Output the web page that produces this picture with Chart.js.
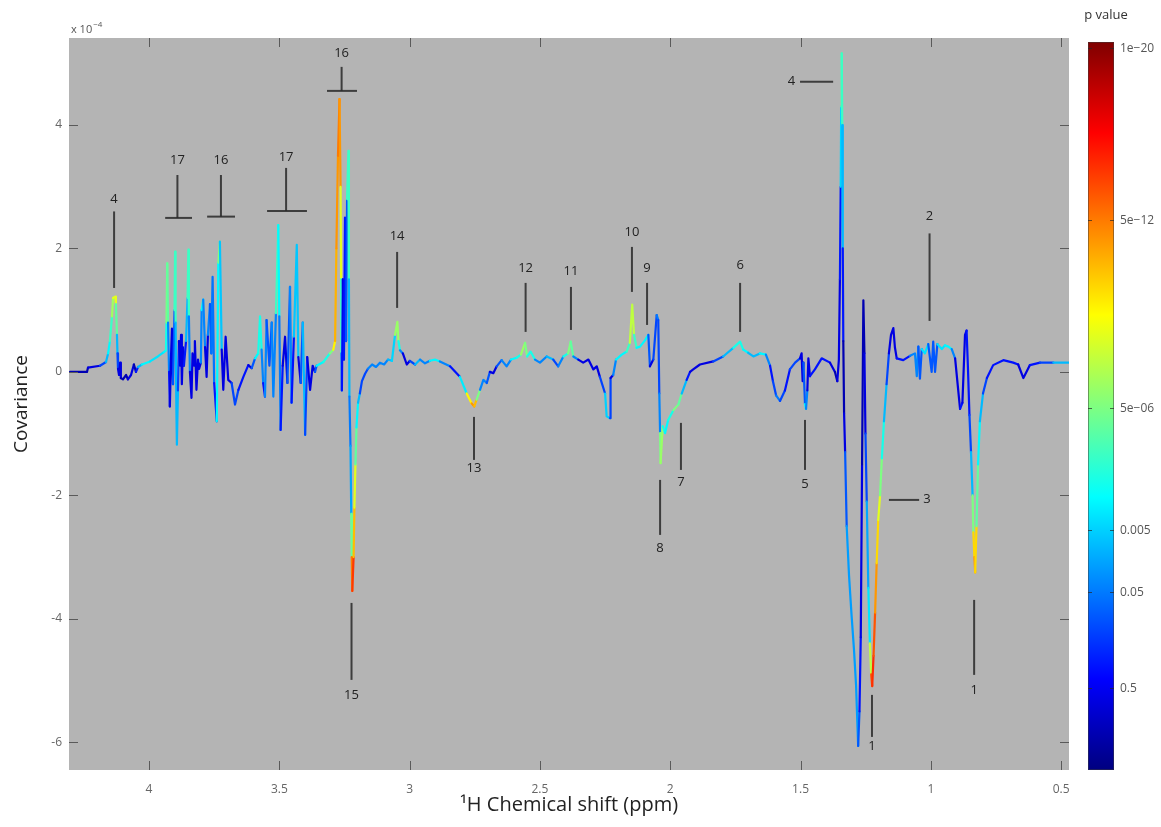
<!DOCTYPE html>
<html><head><meta charset="utf-8">
<script src="https://cdn.jsdelivr.net/npm/chart.js@4.4.1/dist/chart.umd.min.js"></script>
<style>html,body{margin:0;padding:0;background:#fff;}canvas{display:block;}</style>
</head><body>
<canvas id="c" width="1161" height="827"></canvas>
<script>
// ---- spectrum data: chemical shift (ppm), covariance (x1e-4), p value ----
const shiftA=[4.303,4.238,4.234,4.188,4.165,4.157,4.150,4.142,4.138,4.130,4.127,4.123,4.121,4.119,4.115,4.111,4.108,4.100,4.088,4.081,4.069,4.058,4.050,4.042,4.027,3.996,3.966,3.943,3.935];
const covA  =[0,0,0.07,0.1,0.16,0.3,0.5,0.9,1.2,1.22,1.1,0.6,0.3,0.05,-0.05,0.15,-0.1,-0.12,-0.05,-0.12,-0.05,0.12,0,0.08,0.12,0.17,0.25,0.32,0.35];
const pA    =[1,1,1,0.3,0.05,1e-3,1e-3,5e-6,1e-7,5e-9,1e-7,1e-3,0.05,0.3,1,0.3,1,1,1,1,0.3,1,1,0.05,1e-3,1e-3,5e-3,1e-3,1e-3];

const shiftB=[3.933,3.930,3.927,3.923,3.920,3.916,3.912,3.908,3.902,3.900,3.898,3.895,3.893,3.889,3.885,3.881,3.877,3.874,3.870,3.866,3.858,3.852,3.849,3.847,3.843,3.837,3.833,3.827,3.824,3.818,3.812,3.808,3.801];
const covB  =[0.8,1.76,0.8,0,-0.56,0.2,0.7,-0.2,1.0,1.95,0.8,-0.6,-1.18,-0.3,0.5,0.1,0.6,-0.2,0.4,0.1,0.5,1.2,1.98,0.9,0,-0.42,0.3,0.1,0.5,-0.29,0.2,0.05,0.15];
const pB    =[1e-4,1e-7,1e-3,0.3,0.3,1,0.3,1,1e-3,5e-6,1e-3,0.05,1e-3,0.05,0.3,1,0.3,1,0.3,1,0.05,1e-3,5e-6,1e-3,0.3,1,0.3,1,0.3,1,0.3,1,0.3];

const shiftC=[3.798,3.792,3.785,3.779,3.774,3.766,3.761,3.756,3.750,3.740,3.734,3.728,3.721,3.715,3.706,3.696,3.683,3.670,3.657,3.638,3.619,3.606,3.593,3.581];
const covC  =[1.0,1.17,0.4,-0.08,0.6,1.1,0.3,1.54,-0.18,-0.8,1.77,2.11,0.36,-0.29,0.57,-0.13,-0.18,-0.53,-0.29,-0.08,0.11,0.06,0.22,0.3];
const pC    =[1e-3,1e-3,0.3,1,0.3,1e-3,1,1e-4,1,0.05,5e-6,5e-6,0.3,1,0.3,1,0.3,0.05,0.3,0.3,0.3,1,1e-3,1e-3];

const shiftD=[3.574,3.568,3.562,3.555,3.549,3.538,3.529,3.523,3.513,3.504,3.500,3.495,3.487,3.478,3.469,3.459,3.453,3.444,3.433,3.427,3.418,3.410,3.401,3.393,3.382,3.372,3.363,3.357,3.331,3.306,3.293];
const covD  =[0.9,0.36,-0.18,-0.4,0.84,0.1,0.8,-0.4,0.95,2.38,0.9,-0.94,0.1,0.57,-0.18,1.38,-0.5,0.57,2.06,0.24,-0.18,0.8,-1.02,0.24,-0.29,0.1,0,0.1,0.16,0.3,0.36];
const pD    =[1e-4,1e-3,0.3,0.3,1e-3,1,1e-3,0.3,1e-3,5e-6,0.05,0.05,1,0.3,1,1e-3,0.3,0.3,5e-6,0.3,1,1e-3,0.05,0.3,1,0.3,1,1e-3,1e-3,1e-4,1e-7];

const shiftE=[3.286,3.281,3.275,3.269,3.265,3.263,3.262,3.260,3.256,3.252,3.248,3.244,3.240,3.235,3.233,3.231,3.227,3.224,3.222,3.220,3.215,3.212,3.208,3.204,3.198,3.191,3.183,3.171];
const covE  =[0.5,2.0,3.5,4.42,3.0,1.5,0.3,-0.3,1.5,0.2,2.5,0.5,2.8,3.58,1.5,-0.4,-1.2,-2.3,-3.0,-3.55,-3.0,-2.2,-1.5,-0.9,-0.5,-0.35,-0.15,-0.03];
const pE    =[1e-10,1e-10,5e-12,5e-12,1e-10,5e-6,1e-3,0.3,0.3,1,0.05,1,1e-3,5e-6,1e-3,0.05,0.05,5e-3,5e-9,1e-16,5e-12,5e-9,1e-7,1e-3,1e-3,0.05,0.3,0.05];

const shiftF=[3.160,3.144,3.129,3.114,3.098,3.083,3.068,3.056,3.047,3.043,3.037,3.026,3.011,2.999,2.979,2.960,2.941,2.922,2.903,2.884];
const covF  =[0.05,0.12,0.08,0.15,0.12,0.2,0.18,0.6,0.81,0.5,0.35,0.3,0.12,0.18,0.12,0.2,0.14,0.18,0.2,0.17];
const pF    =[0.3,1e-3,0.3,1e-3,0.3,1e-3,0.05,1e-4,5e-9,1e-4,1e-3,0.3,1,0.3,0.05,1e-3,0.3,1e-3,1e-3,1e-3];

const shiftG=[2.845,2.807,2.781,2.762,2.752,2.743,2.730,2.717,2.704,2.692,2.679,2.666,2.647,2.628,2.611,2.589,2.573,2.557,2.549,2.536,2.519,2.500,2.474,2.449,2.430,2.410,2.392,2.382,2.372,2.353,2.334,2.314,2.295,2.282,2.270];
const covG  =[0.09,-0.08,-0.35,-0.51,-0.56,-0.45,-0.29,-0.13,-0.18,0,-0.02,0.09,0.19,0.09,0.2,0.23,0.28,0.47,0.25,0.33,0.2,0.15,0.25,0.2,0.09,0.25,0.3,0.49,0.25,0.2,0.15,0.2,0.04,0.09,-0.08];
const pG    =[0.3,0.3,1e-7,1e-10,5e-12,5e-9,1e-3,0.3,1e-3,1,0.3,1,1e-3,0.3,1e-3,1e-3,1e-4,5e-9,1e-3,1e-4,1e-3,0.3,1e-3,0.05,0.3,1e-3,1e-4,1e-7,1e-3,0.3,1,0.3,1,0.3,1];

const shiftH=[2.250,2.244,2.231,2.229,2.219,2.208,2.186,2.167,2.155,2.146,2.139,2.129,2.116,2.097,2.084,2.078,2.065,2.052,2.046,2.042,2.039,2.037,2.029,2.020,2.008,1.988,1.969,1.956,1.937,1.924];
const covH  =[-0.35,-0.72,-0.75,-0.1,-0.05,0.2,0.28,0.33,0.47,1.09,0.6,0.39,0.41,0.51,0.6,0.09,0.2,0.92,0.84,-0.35,-0.99,-1.48,-0.88,-0.99,-0.78,-0.62,-0.53,-0.35,-0.13,0];
const pH    =[5e-3,5e-3,5e-3,1,0.3,1e-3,1e-3,1e-3,5e-6,5e-9,5e-6,1e-3,1e-3,1e-3,1e-3,1,0.3,0.05,0.05,0.3,1e-3,5e-9,1e-4,1e-3,1e-3,1e-4,1e-7,1e-3,0.05,1];

const shiftI=[1.912,1.886,1.835,1.797,1.758,1.732,1.720,1.701,1.681,1.656,1.633,1.617,1.606,1.594,1.579,1.560,1.541,1.521,1.502,1.496,1.492,1.489,1.483,1.479,1.474,1.470,1.464,1.445,1.419,1.387,1.368,1.359,1.353];
const covI  =[0.04,0.12,0.17,0.25,0.39,0.49,0.36,0.31,0.25,0.3,0.28,0.1,-0.15,-0.38,-0.47,-0.3,0.04,0.15,0.22,0.3,-0.15,0.15,-0.52,-0.6,-0.3,0.22,-0.07,0.04,0.22,0.15,0,-0.15,0.2];
const pI    =[0.3,1,0.3,0.05,1e-3,1e-4,1e-3,1e-3,0.05,1e-3,1e-3,0.3,0.3,0.05,0.05,0.3,0.3,0.05,0.3,1,0.3,1,1e-3,1e-3,0.3,1,0.3,0.3,0.3,0.3,1,1,0.3];

const shiftJ=[1.349,1.346,1.344,1.342,1.340,1.338,1.336,1.333,1.329,1.323,1.314,1.304,1.295,1.287,1.279,1.274,1.269,1.264,1.259,1.255,1.251,1.246,1.240,1.234,1.229,1.225,1.220,1.214,1.208,1.202,1.195,1.188,1.180,1.170,1.161,1.153,1.144,1.138,1.131];
const covJ  =[1.5,3.0,4.3,5.16,4.0,2.0,0.5,-0.67,-1.3,-2.5,-3.3,-3.96,-4.5,-5.08,-6.06,-5.5,-4.3,-1.5,1.16,0.3,-1.0,-2.1,-3.5,-4.4,-4.9,-5.09,-4.6,-3.9,-3.1,-2.4,-2.0,-1.4,-0.8,-0.2,0.3,0.6,0.71,0.4,0.22];
const pJ    =[1,0.05,1e-4,5e-6,1e-3,0.05,1,1,0.3,0.02,0.02,0.02,0.02,0.02,0.02,0.3,0.3,1,1,1,0.3,0.05,5e-3,1e-3,5e-12,1e-14,1e-14,5e-12,1e-10,5e-9,1e-7,1e-4,1e-3,0.05,0.3,1,0.3,1,0.3];

const shiftK=[1.106,1.080,1.061,1.054,1.048,1.042,1.035,1.023,1.010,0.997,0.991,0.984,0.975,0.958,0.946,0.933,0.920,0.907,0.895,0.888,0.879,0.869,0.863,0.858,0.852,0.846,0.840,0.837,0.833,0.830,0.825,0.819,0.812,0.800,0.785,0.761,0.722,0.684,0.665,0.645,0.620,0.581,0.530,0.470];
const covK  =[0.19,0.26,0.3,-0.07,0.41,-0.11,0.37,0.3,0.45,0,0.49,0,0.45,0.37,0.43,0.41,0.37,0.22,-0.3,-0.6,-0.5,0.6,0.67,0.1,-0.7,-1.3,-2.0,-2.6,-3.0,-3.25,-2.5,-1.5,-0.8,-0.35,-0.1,0.11,0.19,0.15,0.12,-0.1,0.11,0.15,0.15,0.15];
const pK    =[0.3,0.3,1e-3,0.3,1e-3,1,1e-3,5e-3,1e-3,1,1e-3,1,1e-3,5e-3,1e-3,1e-3,1e-3,0.3,1,0.3,0.3,1,0.3,0.3,0.3,0.05,1e-3,5e-9,1e-10,5e-12,1e-7,1e-3,1e-3,0.05,0.3,0.3,0.3,0.3,0.3,1,0.3,0.3,0.05,1e-3];

// ---- axes ticks ----
const xTicks=[4,3.5,3,2.5,2,1.5,1,0.5];
const yTicks=[-6,-4,-2,0,2,4];

// ---- colour bar (p value) ticks ----
const cbTickP=[1e-20,5e-12,5e-6,0.005,0.05,0.5];
const cbTickLabels=['1e\u221220','5e\u221212','5e\u221206','0.005','0.05','0.5'];
const cbTickFrac=[0.992,0.755,0.497,0.330,0.245,0.113];

// ---- annotations (vertical pointers) ----
const vLabels  =['4','17','16','17','16','14','15','13','12','11','10','9','6','8','7','5','2','1','1'];
const vShift   =[4.134,3.891,3.724,3.474,3.261,3.048,3.223,2.753,2.555,2.381,2.147,2.089,1.732,2.039,1.959,1.483,1.005,1.226,0.834];
const vLabelCov=[2.79,3.435,3.435,3.483,5.168,2.204,-5.233,-1.555,1.685,1.636,2.268,1.685,1.734,-2.852,-1.782,-1.815,2.528,-6.06,-5.152];
const vLineFrom=[2.60,3.19,3.19,3.305,4.942,1.944,-3.743,-0.729,1.442,1.377,2.025,1.442,1.442,-1.750,-0.826,-0.778,2.244,-5.233,-3.694];
const vLineTo  =[1.36,2.495,2.516,2.609,4.553,1.037,-4.99,-1.426,0.648,0.680,1.296,0.761,0.648,-2.641,-1.588,-1.588,0.826,-5.914,-4.909];
// T bars under some pointers
const tBarIndex=[1,2,3,4];
const tBarLeft =[3.938,3.777,3.547,3.317];
const tBarRight=[3.835,3.670,3.394,3.202];
// horizontal pointers
const hLabels=['4','3'];
const hLabelShift=[1.535,1.015];
const hCov=[4.70,-2.074];
const hLineFrom=[1.502,1.161];
const hLineTo=[1.375,1.045];

// ---- build ----
const shift=[].concat(shiftA,shiftB,shiftC,shiftD,shiftE,shiftF,shiftG,shiftH,shiftI,shiftJ,shiftK);
const cov=[].concat(covA,covB,covC,covD,covE,covF,covG,covH,covI,covJ,covK);
const pval=[].concat(pA,pB,pC,pD,pE,pF,pG,pH,pI,pJ,pK);
const points=shift.map((s,i)=>({x:s,y:cov[i]}));

const cl=v=>Math.max(0,Math.min(1,v));
function jet(t){
  const r=cl(Math.min(4*t-1.5,-4*t+4.5)),g=cl(Math.min(4*t-0.5,-4*t+3.5)),b=cl(Math.min(4*t+0.5,-4*t+2.5));
  return `rgb(${Math.round(r*255)},${Math.round(g*255)},${Math.round(b*255)})`;
}
const cbLog=cbTickP.map(Math.log10).concat([0]);
const cbF=cbTickFrac.concat([0.05]);
function pFrac(p){
  const l=Math.log10(p);
  if(l<=cbLog[0]) return cbF[0];
  for(let i=0;i<cbLog.length-1;i++){
    if(l>=cbLog[i]&&l<=cbLog[i+1]){const u=(l-cbLog[i])/(cbLog[i+1]-cbLog[i]);return cbF[i]+u*(cbF[i+1]-cbF[i]);}
  }
  return cbF[cbF.length-1];
}

Chart.defaults.font.family="'Open Sans', 'Liberation Sans', sans-serif";

const deco={
  id:'deco',
  beforeDraw(chart){
    const {ctx,chartArea:a}=chart;
    ctx.save();ctx.fillStyle='rgb(180,180,180)';
    ctx.fillRect(a.left,a.top,a.right-a.left,a.bottom-a.top);ctx.restore();
  },
  afterDatasetsDraw(chart){
    const {ctx,chartArea:a,scales:{x:xs,y:ys}}=chart;
    ctx.save();
    // inner ticks
    ctx.strokeStyle='#5a5a5a';ctx.lineWidth=1;
    ctx.beginPath();
    xTicks.forEach(v=>{const x=Math.round(xs.getPixelForValue(v))+0.5;
      ctx.moveTo(x,a.bottom);ctx.lineTo(x,a.bottom-9);ctx.moveTo(x,a.top);ctx.lineTo(x,a.top+9);});
    yTicks.forEach(v=>{const y=Math.round(ys.getPixelForValue(v))+0.5;
      ctx.moveTo(a.left,y);ctx.lineTo(a.left+9,y);ctx.moveTo(a.right,y);ctx.lineTo(a.right-9,y);});
    ctx.stroke();
    // annotations
    ctx.strokeStyle='rgba(40,40,40,0.85)';ctx.lineWidth=2;
    ctx.fillStyle='#222';ctx.font="13px 'Open Sans', sans-serif";
    ctx.textAlign='center';ctx.textBaseline='middle';
    vLabels.forEach((t,i)=>{
      const x=xs.getPixelForValue(vShift[i]);
      ctx.beginPath();ctx.moveTo(x,ys.getPixelForValue(vLineFrom[i]));ctx.lineTo(x,ys.getPixelForValue(vLineTo[i]));ctx.stroke();
      ctx.fillText(t,x,ys.getPixelForValue(vLabelCov[i]));
    });
    tBarIndex.forEach((k,i)=>{
      const y=ys.getPixelForValue(vLineTo[k]);
      ctx.beginPath();ctx.moveTo(xs.getPixelForValue(tBarLeft[i]),y);ctx.lineTo(xs.getPixelForValue(tBarRight[i]),y);ctx.stroke();
    });
    hLabels.forEach((t,i)=>{
      const y=ys.getPixelForValue(hCov[i]);
      ctx.beginPath();ctx.moveTo(xs.getPixelForValue(hLineFrom[i]),y);ctx.lineTo(xs.getPixelForValue(hLineTo[i]),y);ctx.stroke();
      ctx.fillText(t,xs.getPixelForValue(hLabelShift[i]),y-1);
    });
    // exponent label
    ctx.fillStyle='#555';ctx.textAlign='left';ctx.font="11px 'Open Sans', sans-serif";
    ctx.fillText('x 10',a.left+2,a.top-8);
    const w=ctx.measureText('x 10').width;
    ctx.font="8px 'Open Sans', sans-serif";
    ctx.fillText('\u22124',a.left+3+w,a.top-13);
    // colour bar
    const cb={l:1088,t:42,w:26,h:728};
    const g=ctx.createLinearGradient(0,cb.t+cb.h,0,cb.t);
    for(let i=0;i<=64;i++) g.addColorStop(i/64,jet(i/64));
    ctx.fillStyle=g;ctx.fillRect(cb.l,cb.t,cb.w,cb.h);
    ctx.strokeStyle='rgba(60,60,60,0.5)';ctx.lineWidth=1;
    ctx.strokeRect(cb.l+0.5,cb.t+0.5,cb.w-1,cb.h-1);
    ctx.font="12px 'Open Sans', sans-serif";ctx.textBaseline='middle';
    cbTickFrac.forEach((f,i)=>{
      const y=Math.round(cb.t+cb.h*(1-f))+0.5;
      ctx.strokeStyle='rgba(40,40,40,0.7)';
      ctx.beginPath();ctx.moveTo(cb.l,y);ctx.lineTo(cb.l+4,y);ctx.moveTo(cb.l+cb.w,y);ctx.lineTo(cb.l+cb.w-4,y);ctx.stroke();
      ctx.fillStyle='#555';ctx.textAlign='left';
      ctx.fillText(cbTickLabels[i],cb.l+cb.w+6,y);
    });
    ctx.fillStyle='#333';ctx.textAlign='center';ctx.font="13px 'Open Sans', sans-serif";
    ctx.fillText('p value',cb.l+cb.w/2+5,15);
    ctx.restore();
  }
};

new Chart(document.getElementById('c'),{
  type:'line',
  data:{datasets:[{
    data:points,parsing:true,pointRadius:0,borderWidth:2.2,tension:0,
    borderColor:'rgb(0,0,200)',borderJoinStyle:'round',borderCapStyle:'round',
    segment:{borderColor:c=>jet((pFrac(pval[c.p0DataIndex])+pFrac(pval[c.p1DataIndex]))/2)}
  }]},
  options:{
    responsive:false,devicePixelRatio:1,animation:false,
    layout:{padding:{left:0,top:38,right:92,bottom:0}},
    plugins:{legend:{display:false},tooltip:{enabled:false}},
    events:[],
    scales:{
      x:{type:'linear',reverse:true,min:0.470,max:4.307,
        afterBuildTicks:s=>{s.ticks=xTicks.map(v=>({value:v}));},
        afterFit:s=>{s.height=57;},
        grid:{display:false,drawTicks:false},border:{display:false},
        ticks:{color:'#666',font:{size:12},padding:12,maxRotation:0,autoSkip:false,callback:v=>String(v)},
        title:{display:true,text:'\u00B9H Chemical shift (ppm)',color:'#222',font:{size:20},padding:{top:0,bottom:10}}
      },
      y:{type:'linear',min:-6.45,max:5.41,
        afterBuildTicks:s=>{s.ticks=yTicks.map(v=>({value:v}));},
        afterFit:s=>{s.width=69;},
        grid:{display:false,drawTicks:false},border:{display:false},
        ticks:{color:'#666',font:{size:12},padding:7,callback:v=>String(v)},
        title:{display:true,text:'Covariance',color:'#222',font:{size:19},padding:{top:10,bottom:0}}
      }
    }
  },
  plugins:[deco]
});
</script>
</body></html>
